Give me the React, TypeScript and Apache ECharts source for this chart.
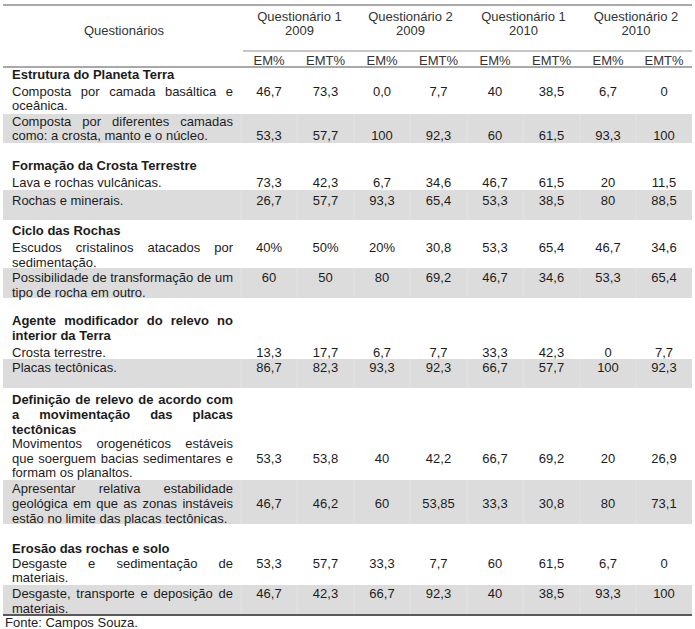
import React, { useEffect, useRef } from "react";
import * as echarts from "echarts";

// ---------- DATA ----------
const headerLabel = "Questionários";
const groupHeaders = [
  ["Questionário 1", "2009"],
  ["Questionário 2", "2009"],
  ["Questionário 1", "2010"],
  ["Questionário 2", "2010"],
];
const subHeaders = ["EM%", "EMT%"];

const topics = [
  ["Estrutura do Planeta Terra"],
  ["Formação da Crosta Terrestre"],
  ["Ciclo das Rochas"],
  ["Agente modificador do relevo no", "interior da Terra"],
  ["Definição de relevo de acordo com", "a movimentação das placas", "tectônicas"],
  ["Erosão das rochas e solo"],
];

const answers = [
  ["Composta por camada basáltica e", "oceânica."],
  ["Composta por diferentes camadas", "como: a crosta, manto e o núcleo."],
  ["Lava e rochas vulcânicas."],
  ["Rochas e minerais."],
  ["Escudos cristalinos atacados por", "sedimentação."],
  ["Possibilidade de transformação de um", "tipo de rocha em outro."],
  ["Crosta terrestre."],
  ["Placas tectônicas."],
  ["Movimentos orogenéticos estáveis", "que soerguem bacias sedimentares e", "formam os planaltos."],
  ["Apresentar relativa estabilidade", "geológica em que as zonas instáveis", "estão no limite das placas tectônicas."],
  ["Desgaste e sedimentação de", "materiais."],
  ["Desgaste, transporte e deposição de", "materiais."],
];

const q1_2009_EM = ["46,7", "53,3", "73,3", "26,7", "40%", "60", "13,3", "86,7", "53,3", "46,7", "53,3", "46,7"];
const q1_2009_EMT = ["73,3", "57,7", "42,3", "57,7", "50%", "50", "17,7", "82,3", "53,8", "46,2", "57,7", "42,3"];
const q2_2009_EM = ["0,0", "100", "6,7", "93,3", "20%", "80", "6,7", "93,3", "40", "60", "33,3", "66,7"];
const q2_2009_EMT = ["7,7", "92,3", "34,6", "65,4", "30,8", "69,2", "7,7", "92,3", "42,2", "53,85", "7,7", "92,3"];
const q1_2010_EM = ["40", "60", "46,7", "53,3", "53,3", "46,7", "33,3", "66,7", "66,7", "33,3", "60", "40"];
const q1_2010_EMT = ["38,5", "61,5", "61,5", "38,5", "65,4", "34,6", "42,3", "57,7", "69,2", "30,8", "61,5", "38,5"];
const q2_2010_EM = ["6,7", "93,3", "20", "80", "46,7", "53,3", "0", "100", "20", "80", "6,7", "93,3"];
const q2_2010_EMT = ["0", "100", "11,5", "88,5", "34,6", "65,4", "7,7", "92,3", "26,9", "73,1", "0", "100"];

const sourceNote = "Fonte: Campos Souza.";

// ---------- LAYOUT ----------
const W = 695;
const H = 629;
const FONT = '"Liberation Sans", Arial, Helvetica, sans-serif';
const FS = 13;
const TEXT_L = 12;
const TEXT_R = 233;
const TABLE_L = 3;
const TABLE_R = 692;
const colBounds = [241, 297, 354, 410, 467, 523, 580, 636, 692];

const topicY = [[74], [165], [230], [320, 335], [399, 414, 429], [548]];
const answerY = [
  [91, 105], [121, 135], [182], [200], [247, 262], [277, 292],
  [352], [367], [443, 458, 472], [488, 503, 518], [563, 577], [593, 608],
];
const valueY = [91, 135, 182, 200, 247, 277, 352, 367, 458, 503, 563, 593];
const bands = [[114, 143], [190, 220], [268, 298], [359, 388], [480, 524], [585, 614]];

const TEXT_COLOR = "#1c1c1c";
const HEAD_COLOR = "#333333";
const BAND_COLOR = "#dcdcdc";

let measureCtx: CanvasRenderingContext2D | null = null;
function measure(t: string, weight: string) {
  if (!measureCtx) measureCtx = document.createElement("canvas").getContext("2d");
  measureCtx!.font = `${weight} ${FS}px ${FONT}`;
  return measureCtx!.measureText(t).width;
}

function textEl(text: string, x: number, y: number, opts: any = {}) {
  return {
    type: "text",
    silent: true,
    style: {
      text,
      x,
      y,
      fill: opts.fill || TEXT_COLOR,
      fontSize: opts.fontSize || FS,
      fontFamily: FONT,
      fontWeight: opts.weight || "normal",
      align: opts.align || "left",
      verticalAlign: "middle",
    },
  };
}

function paragraph(lines: string[], ys: number[], weight: string) {
  const els: any[] = [];
  lines.forEach((line, i) => {
    const last = i === lines.length - 1;
    const words = line.split(" ");
    if (last || words.length < 2) {
      els.push(textEl(line, TEXT_L, ys[i], { weight }));
      return;
    }
    const widths = words.map((w) => measure(w, weight));
    const total = widths.reduce((a, b) => a + b, 0);
    const gap = (TEXT_R - TEXT_L - total) / (words.length - 1);
    let x = TEXT_L;
    words.forEach((w, k) => {
      els.push(textEl(w, x, ys[i], { weight }));
      x += widths[k] + gap;
    });
  });
  return els;
}

function hline(x1: number, x2: number, y: number, color: string, width: number) {
  return {
    type: "line",
    silent: true,
    shape: { x1, y1: y, x2, y2: y },
    style: { stroke: color, lineWidth: width },
  };
}

export default function App() {
  const ref = useRef<HTMLDivElement>(null);

  useEffect(() => {
    if (!ref.current) return;
    const chart = echarts.init(ref.current, null, { renderer: "svg", width: W, height: H });
    const columns = [q1_2009_EM, q1_2009_EMT, q2_2009_EM, q2_2009_EMT, q1_2010_EM, q1_2010_EMT, q2_2010_EM, q2_2010_EMT];
    const centers = columns.map((_, i) => (colBounds[i] + colBounds[i + 1]) / 2);
    const els: any[] = [];

    // bands
    bands.forEach(([y1, y2]) => {
      els.push({
        type: "rect",
        silent: true,
        shape: { x: TABLE_L, y: y1, width: TABLE_R - TABLE_L, height: y2 - y1 },
        style: { fill: BAND_COLOR },
      });
      colBounds.slice(0, -1).forEach((x) => {
        els.push({
          type: "line",
          silent: true,
          shape: { x1: x, y1, x2: x, y2 },
          style: { stroke: "#e3e3e3", lineWidth: 1 },
        });
      });
    });

    // rules
    els.push(hline(TABLE_L, TABLE_R, 5, "#8c8c8c", 1.5));
    els.push(hline(colBounds[0] + 2, TABLE_R, 51, "#8c8c8c", 1.2));
    els.push(hline(TABLE_L, TABLE_R, 67, "#8c8c8c", 1.5));
    els.push(hline(TABLE_L, TABLE_R, 615, "#5a5a5a", 2));

    // headers
    els.push(textEl(headerLabel, 124, 30, { align: "center", fill: HEAD_COLOR }));
    groupHeaders.forEach((g, i) => {
      const cx = (colBounds[i * 2] + colBounds[i * 2 + 2]) / 2 + (i === 0 ? 2 : 0);
      els.push(textEl(g[0], cx, 16, { align: "center", fill: HEAD_COLOR }));
      els.push(textEl(g[1], cx, 30, { align: "center", fill: HEAD_COLOR }));
      subHeaders.forEach((s, k) => {
        els.push(textEl(s, centers[i * 2 + k], 60, { align: "center", fill: HEAD_COLOR }));
      });
    });

    // topics
    topics.forEach((lines, i) => {
      els.push(...paragraph(lines, topicY[i], "bold"));
    });
    // answers
    answers.forEach((lines, i) => {
      els.push(...paragraph(lines, answerY[i], "normal"));
    });
    // values
    columns.forEach((col, c) => {
      col.forEach((v, r) => {
        els.push(textEl(v, centers[c], valueY[r], { align: "center" }));
      });
    });

    els.push(textEl(sourceNote, 5, 622, { fontSize: 13, fill: "#222" }));

    chart.setOption({
      animation: false,
      backgroundColor: "#ffffff",
      graphic: { elements: els },
    });
    return () => chart.dispose();
  }, []);

  return (
    <div
      ref={ref}
      style={{ position: "absolute", left: 0, top: 0, width: W, height: H, background: "#fff" }}
    />
  );
}
